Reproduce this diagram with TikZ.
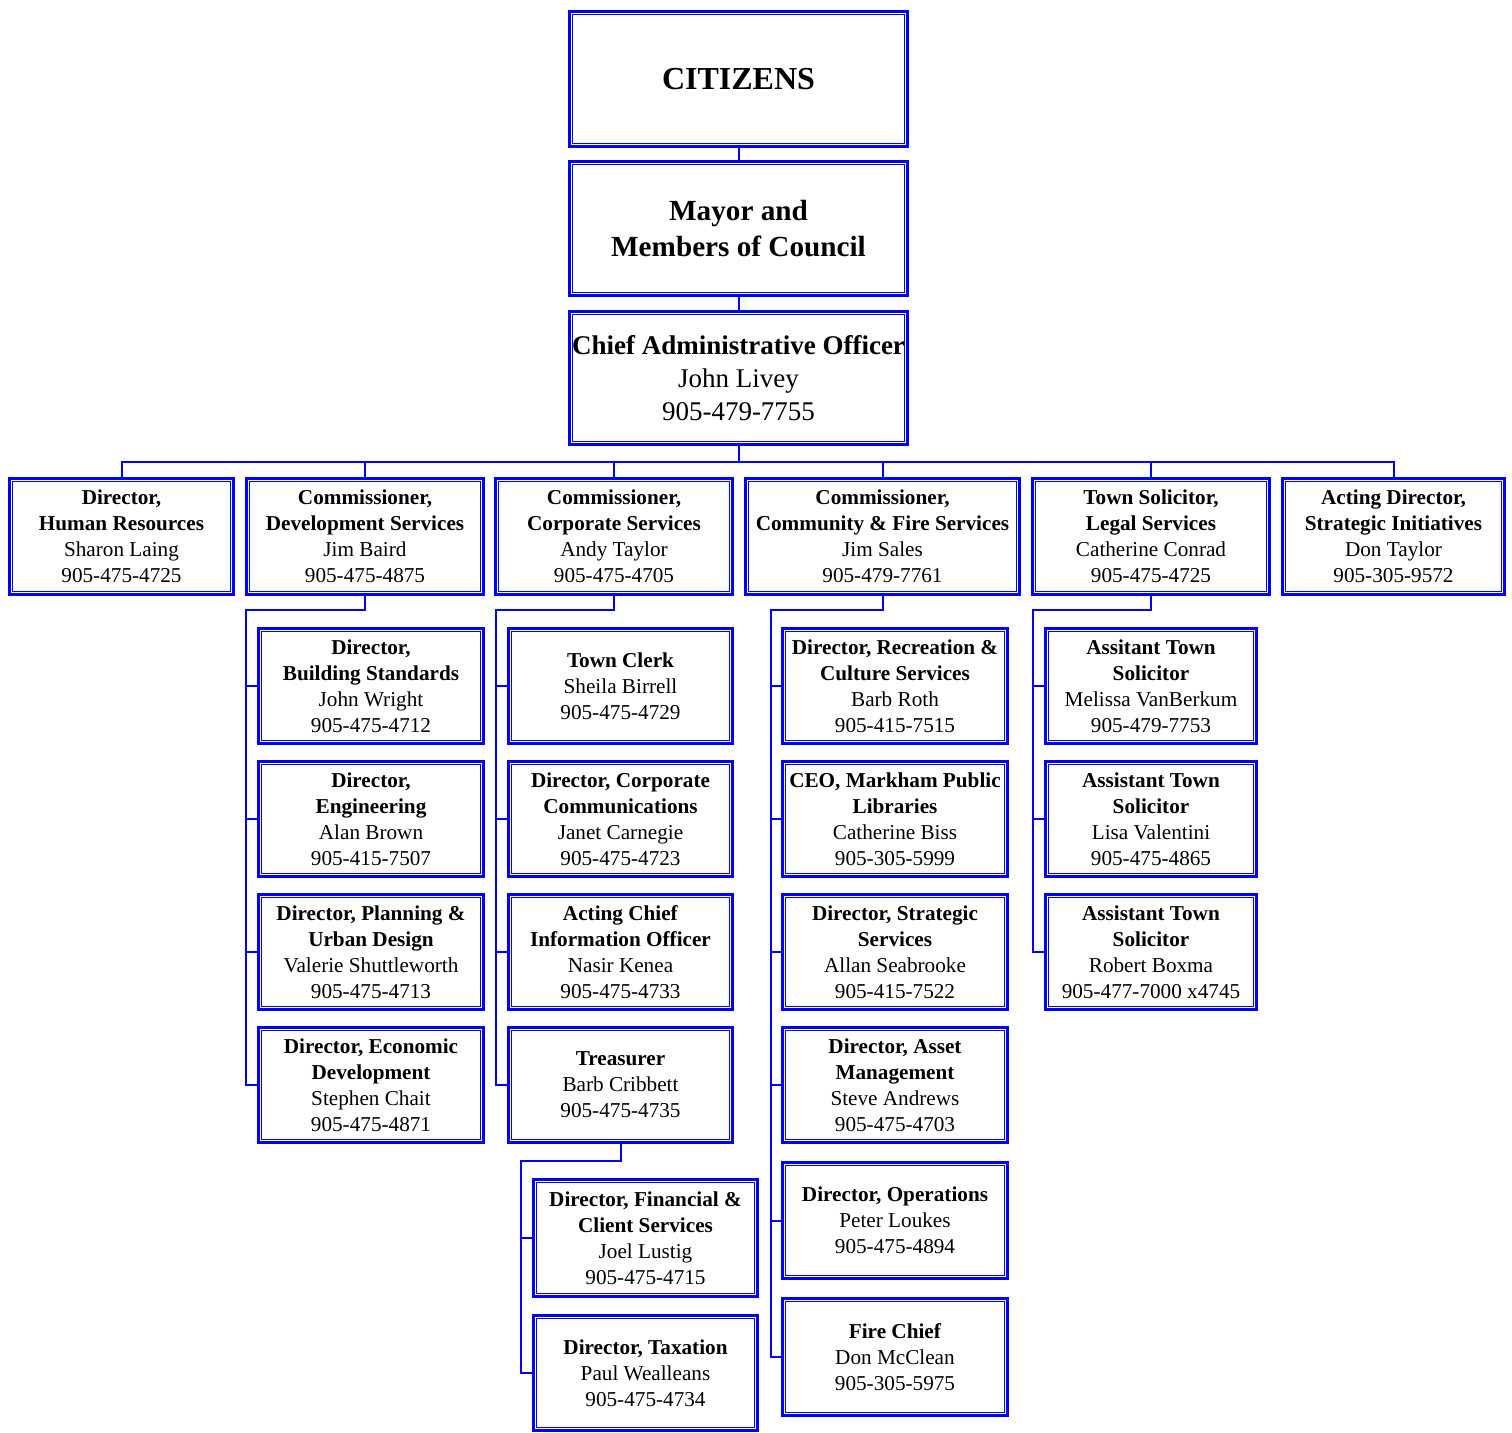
\documentclass[tikz,border=0pt]{standalone}
\usepackage{fontspec}
\setmainfont{Liberation Serif}
\usetikzlibrary{positioning}
\definecolor{OrgBlue}{RGB}{0,0,255}

\begin{document}
\begin{tikzpicture}[
  x=0.5pt, y=-0.5pt,
  unit/.style={draw=OrgBlue, line width=1.4pt, fill=white,
    align=center, inner sep=1pt, font=\fontsize{10.6}{13}\selectfont},
  top/.style={unit, minimum width=169pt},
  head/.style={unit, minimum height=58pt},
  sub/.style={unit, minimum height=57.5pt},
  frame/.style={draw=OrgBlue, line width=0.6pt},
  link/.style={draw=OrgBlue, line width=1pt}
]
\useasboundingbox (0,0) rectangle (1512,1433);

% council and administration
\node[top, minimum height=67.5pt, font=\fontsize{16}{19}\selectfont\bfseries] (cit) at (738.5,79) {CITIZENS};
\node[top, minimum height=67pt, font=\fontsize{14.6}{18}\selectfont\bfseries] (mayor) at (738.5,228.5) {Mayor and\\Members of Council};
\node[top, minimum height=66.5pt, font=\fontsize{13.5}{16.5}\selectfont] (cao) at (738.5,378) {\textbf{Chief Administrative Officer}\\John Livey\\905-479-7755};

% departments
\node[head, minimum width=112pt] (hr) at (121.5,536.5) {\textbf{Director,}\\\textbf{Human Resources}\\Sharon Laing\\905-475-4725};
\node[head, minimum width=118.5pt] (dev) at (365,536.5) {\textbf{Commissioner,}\\\textbf{Development Services}\\Jim Baird\\905-475-4875};
\node[head, minimum width=118.5pt] (corp) at (614,536.5) {\textbf{Commissioner,}\\\textbf{Corporate Services}\\Andy Taylor\\905-475-4705};
\node[head, minimum width=137pt] (comm) at (882.5,536.5) {\textbf{Commissioner,}\\\textbf{Community \& Fire Services}\\Jim Sales\\905-479-7761};
\node[head, minimum width=118.5pt] (legal) at (1151,536.5) {\textbf{Town Solicitor,}\\\textbf{Legal Services}\\Catherine Conrad\\905-475-4725};
\node[head, minimum width=111pt] (strat) at (1393.5,536.5) {\textbf{Acting Director,}\\\textbf{Strategic Initiatives}\\Don Taylor\\905-305-9572};

% development services
\node[sub, minimum width=112.5pt] (bldg) at (371,686) {\textbf{Director,}\\\textbf{Building Standards}\\John Wright\\905-475-4712};
\node[sub, minimum width=112.5pt] (eng) at (371,819) {\textbf{Director,}\\\textbf{Engineering}\\Alan Brown\\905-415-7507};
\node[sub, minimum width=112.5pt] (plan) at (371,952) {\textbf{Director, Planning \&}\\\textbf{Urban Design}\\Valerie Shuttleworth\\905-475-4713};
\node[sub, minimum width=112.5pt] (econ) at (371,1085) {\textbf{Director, Economic}\\\textbf{Development}\\Stephen Chait\\905-475-4871};

% corporate services
\node[sub, minimum width=112pt] (clerk) at (620.5,686) {\textbf{Town Clerk}\\Sheila Birrell\\905-475-4729};
\node[sub, minimum width=112pt] (ccomm) at (620.5,819) {\textbf{Director, Corporate}\\\textbf{Communications}\\Janet Carnegie\\905-475-4723};
\node[sub, minimum width=112pt] (cio) at (620.5,952) {\textbf{Acting Chief}\\\textbf{Information Officer}\\Nasir Kenea\\905-475-4733};
\node[sub, minimum width=112pt] (treas) at (620.5,1085) {\textbf{Treasurer}\\Barb Cribbett\\905-475-4735};
\node[unit, minimum width=112pt, minimum height=58.5pt] (fin) at (645.5,1238) {\textbf{Director, Financial \&}\\\textbf{Client Services}\\Joel Lustig\\905-475-4715};
\node[unit, minimum width=112pt, minimum height=57.5pt] (tax) at (645.5,1373) {\textbf{Director, Taxation}\\Paul Wealleans\\905-475-4734};

% community & fire services
\node[sub, minimum width=112.5pt] (rec) at (895,686) {\textbf{Director, Recreation \&}\\\textbf{Culture Services}\\Barb Roth\\905-415-7515};
\node[sub, minimum width=112.5pt] (lib) at (895,819) {\textbf{CEO, Markham Public}\\\textbf{Libraries}\\Catherine Biss\\905-305-5999};
\node[sub, minimum width=112.5pt] (strsvc) at (895,952) {\textbf{Director, Strategic}\\\textbf{Services}\\Allan Seabrooke\\905-415-7522};
\node[sub, minimum width=112.5pt] (asset) at (895,1085) {\textbf{Director, Asset}\\\textbf{Management}\\Steve Andrews\\905-475-4703};
\node[unit, minimum width=112.5pt, minimum height=58pt] (ops) at (895,1220.5) {\textbf{Director, Operations}\\Peter Loukes\\905-475-4894};
\node[unit, minimum width=112.5pt, minimum height=58.5pt] (fire) at (895,1357) {\textbf{Fire Chief}\\Don McClean\\905-305-5975};

% legal services
\node[sub, minimum width=105.5pt] (ast1) at (1151,686) {\textbf{Assitant Town}\\\textbf{Solicitor}\\Melissa VanBerkum\\905-479-7753};
\node[sub, minimum width=105.5pt] (ast2) at (1151,819) {\textbf{Assistant Town}\\\textbf{Solicitor}\\Lisa Valentini\\905-475-4865};
\node[sub, minimum width=105.5pt] (ast3) at (1151,952) {\textbf{Assistant Town}\\\textbf{Solicitor}\\Robert Boxma\\905-477-7000 x4745};

% thin inner frames
\foreach \n in {cit,mayor,cao,hr,dev,corp,comm,legal,strat,bldg,eng,plan,econ,
    clerk,ccomm,cio,treas,fin,tax,rec,lib,strsvc,asset,ops,fire,ast1,ast2,ast3}
  \draw[frame] ([shift={(2.2pt,-2.2pt)}]\n.north west) rectangle ([shift={(-2.2pt,2.2pt)}]\n.south east);

% connectors
\coordinate (bus) at (733,462);
\coordinate (devrail) at (246,610);
\coordinate (corprail) at (496,610);
\coordinate (treasrail) at (521,1161);
\coordinate (commrail) at (771,610);
\coordinate (legalrail) at (1033,610);

\draw[link] (cit) -- (mayor);
\draw[link] (mayor) -- (cao);
\draw[link] (cao.south) -- (cao.south |- bus);
\draw[link] (hr.north) |- (strat.north |- bus) -- (strat.north);
\foreach \n in {dev,corp,comm,legal}
  \draw[link] (\n.north) -- (\n.north |- bus);

\draw[link] (dev.south) |- (devrail) |- (econ.west);
\foreach \n in {bldg,eng,plan}
  \draw[link] (devrail |- \n.west) -- (\n.west);

\draw[link] (corp.south) |- (corprail) |- (treas.west);
\foreach \n in {clerk,ccomm,cio}
  \draw[link] (corprail |- \n.west) -- (\n.west);

\draw[link] (treas.south) |- (treasrail) |- (tax.west);
\draw[link] (treasrail |- fin.west) -- (fin.west);

\draw[link] (comm.south) |- (commrail) |- (fire.west);
\foreach \n in {rec,lib,strsvc,asset,ops}
  \draw[link] (commrail |- \n.west) -- (\n.west);

\draw[link] (legal.south) |- (legalrail) |- (ast3.west);
\foreach \n in {ast1,ast2}
  \draw[link] (legalrail |- \n.west) -- (\n.west);
\end{tikzpicture}
\end{document}
